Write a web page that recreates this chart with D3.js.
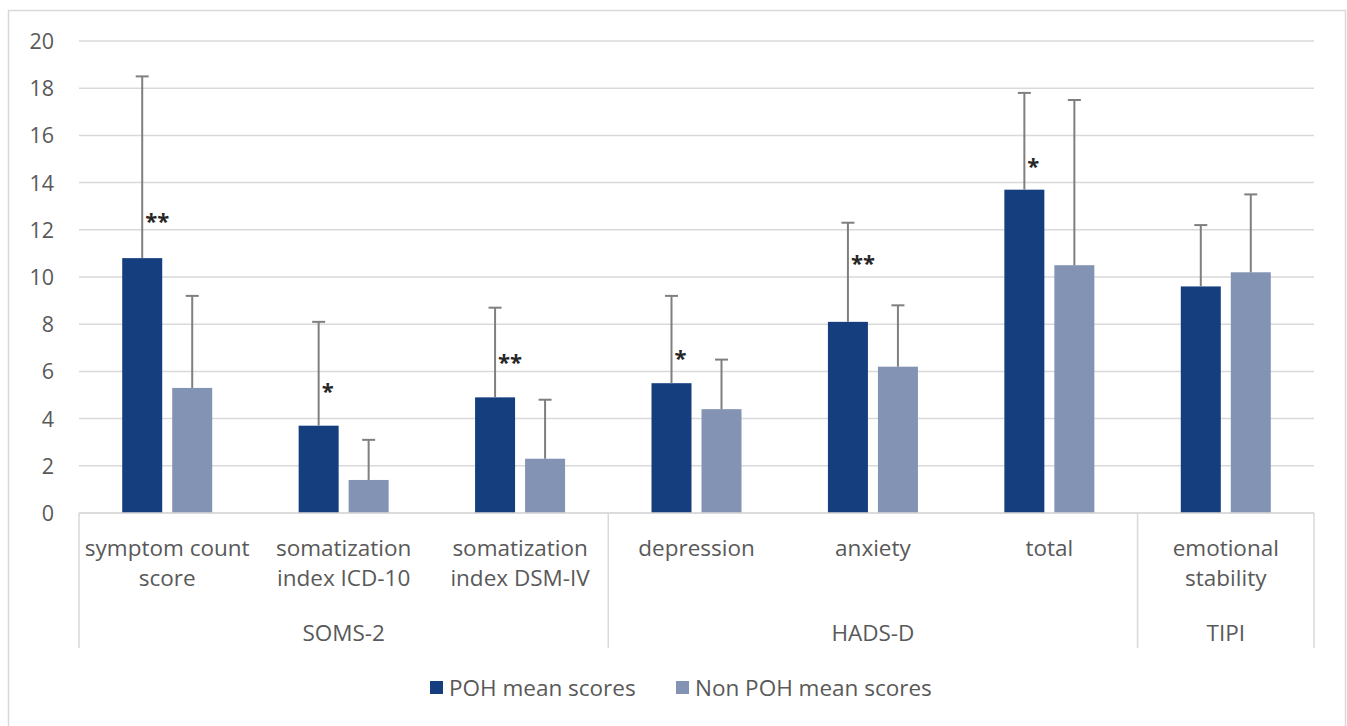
<!DOCTYPE html>
<html>
<head>
<meta charset="utf-8">
<script src="https://cdn.jsdelivr.net/npm/d3@7"></script>
<style>
  body { margin: 0; background: #fff; }
  text { font-family: "Open Sans", sans-serif; }
</style>
</head>
<body>
<script>
// ---------------------- data ----------------------
var categories = [
  ["symptom count", "score"],
  ["somatization", "index ICD-10"],
  ["somatization", "index DSM-IV"],
  ["depression"],
  ["anxiety"],
  ["total"],
  ["emotional", "stability"]
];
var groups = [
  { name: "SOMS-2", from: 0, to: 3 },
  { name: "HADS-D", from: 3, to: 6 },
  { name: "TIPI", from: 6, to: 7 }
];
var series = ["POH mean scores", "Non POH mean scores"];
var pohMean = [10.8, 3.7, 4.9, 5.5, 8.1, 13.7, 9.6];
var pohTop  = [18.5, 8.1, 8.7, 9.2, 12.3, 17.8, 12.2];
var nonMean = [5.3, 1.4, 2.3, 4.4, 6.2, 10.5, 10.2];
var nonTop  = [9.2, 3.1, 4.8, 6.5, 8.8, 17.5, 13.5];
var stars   = ["**", "*", "**", "*", "**", "*", ""];
var starAt  = [12.6, 5.4, 6.6, 6.8, 10.8, 14.9, 0];
var yTicks  = [0, 2, 4, 6, 8, 10, 12, 14, 16, 18, 20];

var colors = ["#153e7f", "#8393b4"];
var grey = "#595959";

// ---------------------- chart ----------------------
var svg = d3.select("body")
     .append("svg")
     .attr("width", 1347)
     .attr("height", 726);

svg.append("rect")
     .attr("x", 8.5).attr("y", 10.5)
     .attr("width", 1337).attr("height", 730)
     .attr("fill", "none")
     .attr("stroke", "#d9d9d9")
     .attr("stroke-width", 1.5);

var plotL = 79, plotR = 1314, plotT = 41, plotB = 513;

var x = d3.scaleBand()
     .domain(d3.range(categories.length))
     .range([plotL, plotR]);

var y = d3.scaleLinear()
     .domain([0, 20])
     .range([plotB, plotT]);

// gridlines
svg.append("g")
     .selectAll("line")
     .data(yTicks)
     .enter()
     .append("line")
     .attr("x1", plotL).attr("x2", plotR)
     .attr("y1", d => y(d)).attr("y2", d => y(d))
     .attr("stroke", "#d9d9d9")
     .attr("stroke-width", 1.5);

// y axis labels
svg.append("g")
     .selectAll("text")
     .data(yTicks)
     .enter()
     .append("text")
     .text(d => d)
     .attr("x", 54)
     .attr("y", d => y(d) + 8)
     .attr("text-anchor", "end")
     .style("font-size", "21.5px")
     .style("fill", grey);

// bars
var bw = 40, gap = 10;
var off = [-(bw + gap) / 2, (bw + gap) / 2];
var means = [pohMean, nonMean];
var tops = [pohTop, nonTop];

means.forEach(function (vals, s) {
  var g = svg.append("g");
  g.selectAll("rect")
     .data(vals)
     .enter()
     .append("rect")
     .attr("x", (d, i) => x(i) + x.bandwidth() / 2 + off[s] - bw / 2)
     .attr("y", d => y(d))
     .attr("width", bw)
     .attr("height", d => y(0) - y(d))
     .attr("fill", colors[s]);

  // error bars (upper only)
  var e = svg.append("g")
     .attr("stroke", "#7f7f7f")
     .attr("stroke-width", 2);
  e.selectAll("line.v")
     .data(vals)
     .enter()
     .append("line")
     .attr("x1", (d, i) => x(i) + x.bandwidth() / 2 + off[s])
     .attr("x2", (d, i) => x(i) + x.bandwidth() / 2 + off[s])
     .attr("y1", d => y(d))
     .attr("y2", (d, i) => y(tops[s][i]));
  e.selectAll("line.c")
     .data(vals)
     .enter()
     .append("line")
     .attr("x1", (d, i) => x(i) + x.bandwidth() / 2 + off[s] - 6.5)
     .attr("x2", (d, i) => x(i) + x.bandwidth() / 2 + off[s] + 6.5)
     .attr("y1", (d, i) => y(tops[s][i]))
     .attr("y2", (d, i) => y(tops[s][i]));
});

// significance stars
svg.append("g")
     .selectAll("text")
     .data(stars)
     .enter()
     .append("text")
     .text(d => d)
     .attr("x", (d, i) => x(i) + x.bandwidth() / 2 + off[0] + 3)
     .attr("y", (d, i) => y(starAt[i]) + 13)
     .style("font-size", "22px")
     .style("font-weight", "bold")
     .style("fill", "#262626");

// category axis
svg.append("line")
     .attr("x1", plotL).attr("x2", plotR)
     .attr("y1", plotB).attr("y2", plotB)
     .attr("stroke", "#d9d9d9").attr("stroke-width", 1.5);

var seps = [0, 3, 6, 7];
svg.append("g")
     .selectAll("line")
     .data(seps)
     .enter()
     .append("line")
     .attr("x1", d => d < 7 ? x(d) : plotR)
     .attr("x2", d => d < 7 ? x(d) : plotR)
     .attr("y1", plotB).attr("y2", 648)
     .attr("stroke", "#d9d9d9").attr("stroke-width", 1.5);

var catG = svg.append("g")
     .selectAll("text")
     .data(categories)
     .enter()
     .append("text")
     .attr("text-anchor", "middle")
     .style("font-size", "22.5px")
     .style("fill", grey);
catG.selectAll("tspan")
     .data((d, i) => d.map(t => ({ t: t, i: i })))
     .enter()
     .append("tspan")
     .attr("x", d => x(d.i) + x.bandwidth() / 2)
     .attr("y", (d, j) => 556 + j * 30)
     .text(d => d.t);

svg.append("g")
     .selectAll("text")
     .data(groups)
     .enter()
     .append("text")
     .text(d => d.name)
     .attr("x", d => (x(d.from) + (d.to < 7 ? x(d.to) : plotR)) / 2)
     .attr("y", 641)
     .attr("text-anchor", "middle")
     .style("font-size", "22.5px")
     .style("fill", grey);

// legend
var legX = [430, 676];
var leg = svg.append("g")
     .selectAll("g")
     .data(series)
     .enter()
     .append("g")
     .attr("transform", (d, i) => "translate(" + legX[i] + ",681)");
leg.append("rect")
     .attr("width", 13).attr("height", 13)
     .attr("fill", (d, i) => colors[i]);
leg.append("text")
     .text(d => d)
     .attr("x", 19)
     .attr("y", 15)
     .style("font-size", "22.5px")
     .style("fill", grey);
</script>
</body>
</html>
